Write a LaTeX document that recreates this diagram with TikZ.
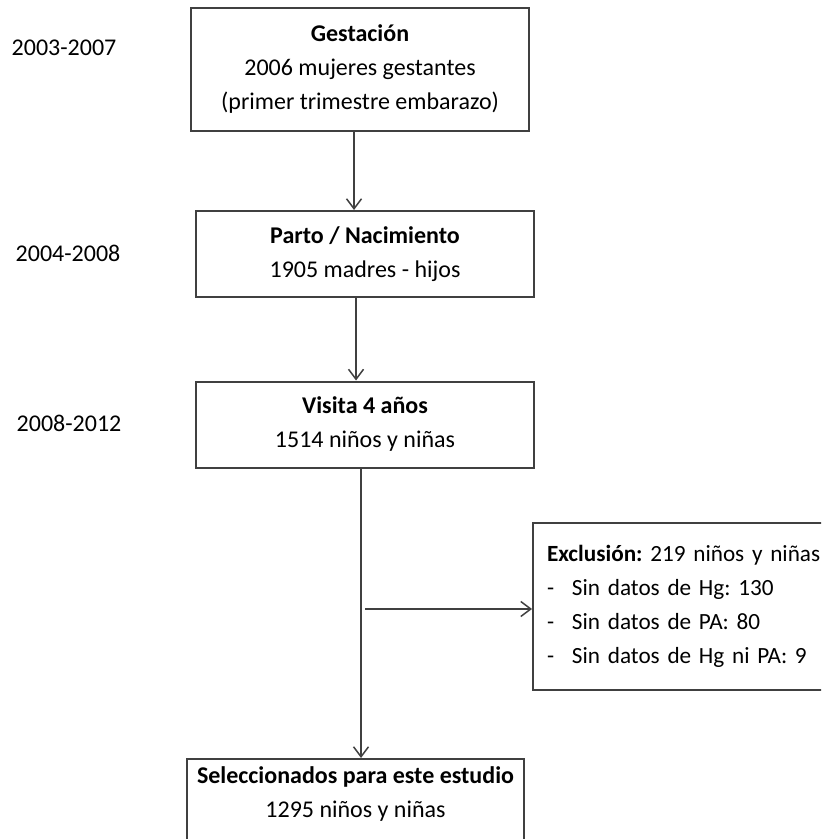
\documentclass[tikz,border=0pt]{standalone}
\usepackage{fontspec}
\setmainfont{Carlito}
\usetikzlibrary{arrows.meta}
\definecolor{linea}{HTML}{404040}

\begin{document}
\begin{tikzpicture}[x=0.5pt, y=-0.5pt, font=\fontsize{12}{17}\selectfont\frenchspacing]
\clip (0,0) rectangle (821,839);

% Nodos Años
\node (A1) at (64,48) {2003-2007};
\node (A2) at (68,253) {2004-2008};
\node (A3) at (69,423) {2008-2012};

% Nodos Cajas
\begin{scope}[
		every node/.style = {shape = rectangle, 
		draw = linea, line width = 1pt, align = center}]
	\node[minimum width = 169pt, minimum height = 61.5pt] (G) at (360,69.5)
		{\textbf{Gestación}\\2006 mujeres gestantes\\(primer trimestre embarazo)};
	\node[minimum width = 169pt, minimum height = 43pt] (P) at (365,254)
		{\textbf{Parto / Nacimiento}\\1905 madres - hijos};
	\node[minimum width = 169pt, minimum height = 43pt] (V) at (365,424.5)
		{\textbf{Visita 4 años}\\1514 niños y niñas};
	\node[anchor = west, align = left, text width = 160pt, inner xsep = 7pt,
		minimum height = 83.5pt, font = \fontsize{11.6}{17}\selectfont\frenchspacing]
		(E) at (532,606.5)
		{\textbf{Exclusión:} 219 niños y niñas\\
		\makebox[12.5pt][l]{-}Sin datos de Hg: 130\\
		\makebox[12.5pt][l]{-}Sin datos de PA: 80\\
		\makebox[12.5pt][l]{-}Sin datos de Hg ni PA: 9};
	\node[anchor = north, minimum width = 168.5pt, inner ysep = 4pt,
		text depth = 30pt] (S) at (355.5,758)
		{\textbf{Seleccionados para este estudio}\\1295 niños y niñas};
\end{scope}

% Paths
\begin{scope}[
		every edge/.style={draw = linea, line width = .75pt,
		-{Straight Barb[length = 5pt, width = 7.5pt]}}]
	\coordinate (C1) at (354,0);
	\coordinate (C2) at (356,0);
	\coordinate (C3) at (361,0);
	\coordinate (R) at (365,609);
	\path (G.south -| C1) edge (P.north -| C1);
	\path (P.south -| C2) edge (V.north -| C2);
	\path (V.south -| C3) edge (S.north -| C3);
	\path (R) edge (R -| E.west);
\end{scope}
\end{tikzpicture}
\end{document}
